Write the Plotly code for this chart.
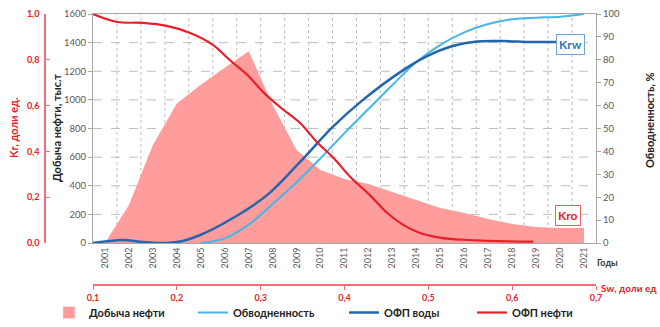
import plotly.graph_objects as go

# ---- Data -------------------------------------------------------------
years = list(range(2001, 2022))
year_labels = [str(y) for y in years]

# Oil production, thousand tonnes
oil_production = [0, 265, 685, 975, 1105, 1225, 1340, 965, 650, 510, 447,
                  412, 356, 300, 245, 210, 168, 133, 112, 105, 105]

# Water cut, %
water_cut = [None, None, None, None, 0, 2.0, 8.0, 17.0, 26.5, 37.0, 48.0,
             58.5, 69.0, 79.0, 86.5, 92.0, 95.6, 97.7, 98.4, 98.8, 100]

# Relative permeability to oil vs water saturation
sw_oil = [0.100, 0.129, 0.160, 0.188, 0.216, 0.243, 0.263, 0.284, 0.303,
          0.323, 0.347, 0.367, 0.387, 0.407, 0.430, 0.451, 0.470, 0.490,
          0.510, 0.529, 0.550, 0.570, 0.625]
kro = [1.000, 0.965, 0.961, 0.948, 0.917, 0.865, 0.799, 0.734, 0.659,
       0.594, 0.524, 0.441, 0.371, 0.288, 0.210, 0.131, 0.079, 0.044,
       0.026, 0.017, 0.013, 0.009, 0.006]

# Relative permeability to water vs water saturation
sw_water = [0.100, 0.120, 0.136, 0.160, 0.188, 0.207, 0.228, 0.267, 0.308,
            0.347, 0.386, 0.422, 0.470, 0.498, 0.529, 0.558, 0.589, 0.621,
            0.653]
krw = [0.000, 0.009, 0.013, 0.004, 0.000, 0.009, 0.035, 0.109, 0.210,
       0.354, 0.507, 0.625, 0.755, 0.815, 0.860, 0.880, 0.882, 0.878,
       0.878]

oil_ticks = list(range(0, 1601, 200))
wc_ticks = list(range(0, 101, 10))
kr_ticks = [0.0, 0.2, 0.4, 0.6, 0.8, 1.0]
sw_ticks = [0.1, 0.2, 0.3, 0.4, 0.5, 0.6, 0.7]
grid_between_years = [y + 0.5 for y in years[:-1]]

# ---- Styling ------------------------------------------------------------
W, H = 660, 327
TOP, BOTTOM_PLOT = 14, 243
PAPER_H = H - TOP
FONT = "Lato"
RED = "#E8202A"
RED_AXIS = "#F0707A"
PINK = "#FF9C9C"
DARK_BLUE = "#2466AE"
LIGHT_BLUE = "#45B6E8"
GRID = "#BEBEBE"
AXIS = "#A6A6A6"
TICK_TXT = "#595959"


def px_x(px):
    return px / W


def px_y(py):
    return (H - py) / PAPER_H


fig = go.Figure()

fig.add_trace(go.Scatter(
    x=years, y=oil_production, mode="none", fill="tozeroy",
    fillcolor=PINK, showlegend=False, hoverinfo="skip",
    xaxis="x", yaxis="y"))
# legend entry for the production area
fig.add_trace(go.Bar(
    x=[None], y=[None], marker_color=PINK, name="Добыча нефти",
    legend="legend", xaxis="x", yaxis="y"))

fig.add_trace(go.Scatter(
    x=years, y=water_cut, mode="lines", name="Обводненность",
    line=dict(color=LIGHT_BLUE, width=2, shape="spline"),
    legend="legend2", xaxis="x", yaxis="y3"))

fig.add_trace(go.Scatter(
    x=sw_water, y=krw, mode="lines", name="ОФП воды",
    line=dict(color=DARK_BLUE, width=2.5, shape="spline"),
    legend="legend3", xaxis="x3", yaxis="y2"))

fig.add_trace(go.Scatter(
    x=sw_oil, y=kro, mode="lines", name="ОФП нефти",
    line=dict(color=RED, width=2.2, shape="spline"),
    legend="legend4", xaxis="x3", yaxis="y2"))

x_domain = [px_x(93), px_x(596)]
y_domain = [px_y(BOTTOM_PLOT), 1]

legend_common = dict(
    orientation="h", yanchor="bottom", y=0, xanchor="left",
    bgcolor="rgba(0,0,0,0)",
    font=dict(family=FONT, size=11, color="#222222", weight="bold"))

fig.update_layout(
    width=W, height=H,
    margin=dict(l=0, r=0, t=TOP, b=0, autoexpand=False),
    paper_bgcolor="white", plot_bgcolor="white",
    separators=", ",
    font=dict(family=FONT),
    xaxis=dict(
        domain=x_domain, range=[2000.5, 2021.5], anchor="y",
        tickvals=years, ticktext=year_labels, tickangle=-90,
        tickfont=dict(size=9, color=TICK_TXT), ticks="",
        showgrid=False, zeroline=False, showline=True, linecolor=AXIS,
        mirror=True),
    xaxis3=dict(
        overlaying="x", anchor="free", position=px_y(285), side="bottom",
        range=[0.1, 0.7], tickvals=sw_ticks, tickformat=".1f",
        tickfont=dict(size=9, color=RED, weight="bold"),
        ticks="outside", ticklen=4, tickcolor=RED_AXIS,
        showgrid=False, zeroline=False, showline=True,
        linecolor=RED_AXIS, linewidth=1.5),
    yaxis=dict(
        domain=y_domain, range=[0, 1600], anchor="x",
        tickvals=oil_ticks, tickfont=dict(size=9.5, color=TICK_TXT),
        ticks="outside", ticklen=4, tickcolor=AXIS,
        showgrid=False, zeroline=False, showline=True, linecolor=AXIS),
    yaxis2=dict(
        overlaying="y", anchor="free", position=px_x(45), side="left",
        autoshift=False, shift=0,
        range=[0, 1], tickvals=kr_ticks, tickformat=".1f",
        tickfont=dict(size=9, color=RED, weight="bold"),
        ticks="inside", ticklen=4, tickcolor=RED_AXIS,
        ticklabelstandoff=3,
        showgrid=False, zeroline=False, showline=True,
        linecolor=RED_AXIS, linewidth=1.5),
    yaxis3=dict(
        overlaying="y", anchor="x", side="right", range=[0, 100],
        tickvals=wc_ticks, tickfont=dict(size=9.5, color=TICK_TXT),
        ticks="outside", ticklen=4, tickcolor=AXIS,
        showgrid=False, zeroline=False, showline=True, linecolor=AXIS),
    legend=dict(legend_common, x=px_x(49)),
    legend2=dict(legend_common, x=px_x(193)),
    legend3=dict(legend_common, x=px_x(344)),
    legend4=dict(legend_common, x=px_x(472)),
)

# dashed grid: horizontal at production ticks, vertical between years
shapes = []
for v in oil_ticks[1:-1]:
    shapes.append(dict(type="line", xref="x domain", yref="y",
                       x0=0, x1=1, y0=v, y1=v, layer="below",
                       line=dict(color=GRID, width=1, dash="dash")))
for v in grid_between_years:
    shapes.append(dict(type="line", xref="x", yref="y domain",
                       x0=v, x1=v, y0=0, y1=1, layer="below",
                       line=dict(color=GRID, width=1, dash="dot")))
fig.update_layout(shapes=shapes)

annotations = [
    dict(text="<b>Kr, доли ед.</b>", x=px_x(14), y=px_y(128), textangle=-90,
         font=dict(size=11, color=RED)),
    dict(text="<b>Добыча нефти, тыс.т</b>", x=px_x(57), y=px_y(128),
         textangle=-90, font=dict(size=11, color="#222222")),
    dict(text="<b>Обводненность, %</b>", x=px_x(650), y=px_y(120),
         textangle=-90, font=dict(size=11, color="#222222")),
    dict(text="<b>Годы</b>", x=px_x(607), y=px_y(262),
         font=dict(size=9, color="#333333")),
    dict(text="<b>Sw, доли ед</b>", x=px_x(659), y=px_y(288),
         xanchor="right", font=dict(size=10, color=RED)),
]
for a in annotations:
    a.setdefault("xanchor", "center")
    a.update(xref="paper", yref="paper", yanchor="middle", showarrow=False)

annotations += [
    dict(text="<b>Krw</b>", xref="x3", yref="y2", x=0.669, y=0.865,
         showarrow=False, bgcolor="white", bordercolor="#6FA3D6",
         borderwidth=1, borderpad=2,
         font=dict(size=12, color="#2E75B6")),
    dict(text="<b>Kro</b>", xref="x3", yref="y2", x=0.667, y=0.122,
         showarrow=False, bgcolor="white", bordercolor="#E8606A",
         borderwidth=1, borderpad=2,
         font=dict(size=12, color=RED)),
]
for a in annotations:
    a["font"]["family"] = FONT
fig.update_layout(annotations=annotations)

fig.write_html("out.html")
